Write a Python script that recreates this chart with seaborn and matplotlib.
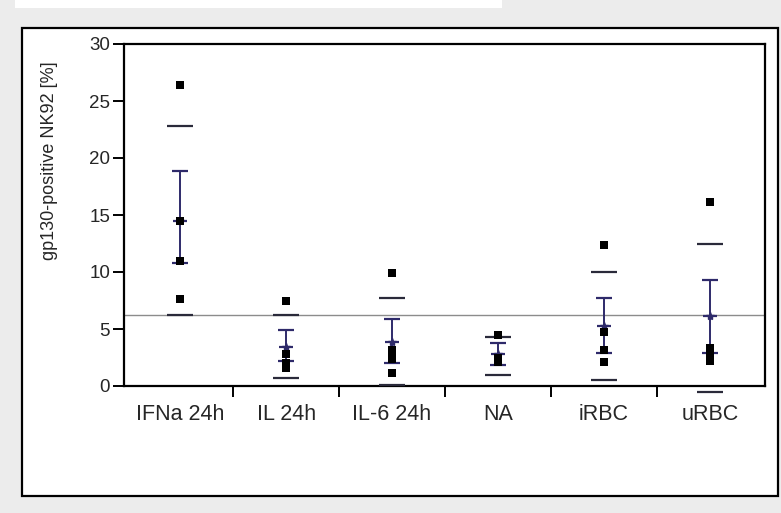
import matplotlib
matplotlib.use("Agg")
import matplotlib.pyplot as plt
from matplotlib.patches import Rectangle
import numpy as np
import pandas as pd
import seaborn as sns

# --- data -------------------------------------------------------------
groups = ["IFNa 24h", "IL 24h", "IL-6 24h", "NA", "iRBC", "uRBC"]

# individual measurements per condition
pts_ifna = [26.4, 14.5, 11.0, 7.6]
pts_il = [7.5, 2.8, 2.0, 1.6]
pts_il6 = [9.9, 3.2, 2.7, 2.4, 1.1]
pts_na = [4.5, 2.5, 2.1]
pts_irbc = [12.4, 4.7, 3.2, 2.1]
pts_urbc = [16.1, 3.3, 2.9, 2.5, 2.2]

# group mean, SEM range and SD range
means = [14.5, 3.4, 3.9, 2.8, 5.3, 6.1]
sem_lo = [10.8, 2.2, 2.0, 1.8, 2.9, 2.9]
sem_hi = [18.9, 4.9, 5.9, 3.8, 7.7, 9.3]
sd_lo = [6.2, 0.7, 0.1, 1.0, 0.5, -0.5]
sd_hi = [22.8, 6.2, 7.7, 4.3, 10.0, 12.5]

threshold = 6.2
y_ticks = [0, 5, 10, 15, 20, 25, 30]

all_pts = [pts_ifna, pts_il, pts_il6, pts_na, pts_irbc, pts_urbc]
df = pd.DataFrame(
    [(g, v) for g, vals in zip(groups, all_pts) for v in vals],
    columns=["group", "value"],
)

# --- style ------------------------------------------------------------
sns.set_style("white")
plt.rcParams["font.family"] = ["Liberation Sans", "DejaVu Sans"]

W, H = 781, 513
fig = plt.figure(figsize=(W / 100, H / 100), dpi=100, facecolor="#ececec")

# white strip along the top and the framed white panel (behind the axes)
fig.patches.append(Rectangle((15 / W, 1 - 8 / H), (502 - 15) / W, 8 / H,
                             transform=fig.transFigure, facecolor="white",
                             edgecolor="none", zorder=-10))
fig.patches.append(Rectangle((22 / W, 1 - 496 / H), (778 - 22) / W, (496 - 28) / H,
                             transform=fig.transFigure, facecolor="white",
                             edgecolor="black", lw=1.6, zorder=-10))

ax = fig.add_axes([124 / W, 1 - 386 / H, (765 - 124) / W, (386 - 44) / H])
ax.set_zorder(5)
ax.set_facecolor("white")

navy = "#2e2a6a"
dark = "#2a2a3a"
xpos = np.arange(len(groups))

# reference level
ax.axhline(threshold, color="#8c8c8c", lw=1.0, zorder=1)

# SD range markers
ax.plot(xpos, sd_hi, ls="none", marker="_", ms=19, mew=1.6, color=dark,
        clip_on=False, zorder=3)
ax.plot(xpos, sd_lo, ls="none", marker="_", ms=19, mew=1.6, color=dark,
        clip_on=False, zorder=3)

# mean with SEM error bars
yerr = np.array([np.subtract(means, sem_lo), np.subtract(sem_hi, means)])
ax.errorbar(xpos, means, yerr=yerr, fmt="_", ms=10, mew=1.6, color=navy,
            ecolor=navy, elinewidth=1.4, capsize=6, capthick=1.4, zorder=4,
            clip_on=False)
ax.plot(xpos, means, ls="none", marker="*", ms=6, color=navy, zorder=4)

# individual data points
sns.stripplot(data=df, x="group", y="value", order=groups, jitter=False,
              marker="s", size=6, color="black", linewidth=0, ax=ax, zorder=5)

# --- axes ---------------------------------------------------------------
ax.set_xlim(-0.53, 5.52)
ax.set_ylim(0, 30)
ax.set_yticks(y_ticks)
ax.set_yticklabels([str(t) for t in y_ticks], fontsize=13.5)
ax.set_xticks(xpos)
ax.set_xticklabels(groups, fontsize=15.5)
ax.set_xticks(xpos[:-1] + 0.5, minor=True)
ax.tick_params(axis="x", which="major", length=0, pad=13)
ax.tick_params(axis="x", which="minor", length=8, width=1.4, direction="out",
               color="black", bottom=True)
ax.tick_params(axis="y", which="major", length=8, width=1.4, direction="out",
               color="black", left=True, pad=2)
ax.set_xlabel("")
ax.set_ylabel("gp130-positive NK92 [%]", fontsize=13)
ax.yaxis.set_label_coords(-0.103, 0.66)

for s in ax.spines.values():
    s.set_visible(True)
    s.set_color("black")
    s.set_linewidth(1.6)

fig.savefig("out.png", dpi=100, facecolor=fig.get_facecolor())
